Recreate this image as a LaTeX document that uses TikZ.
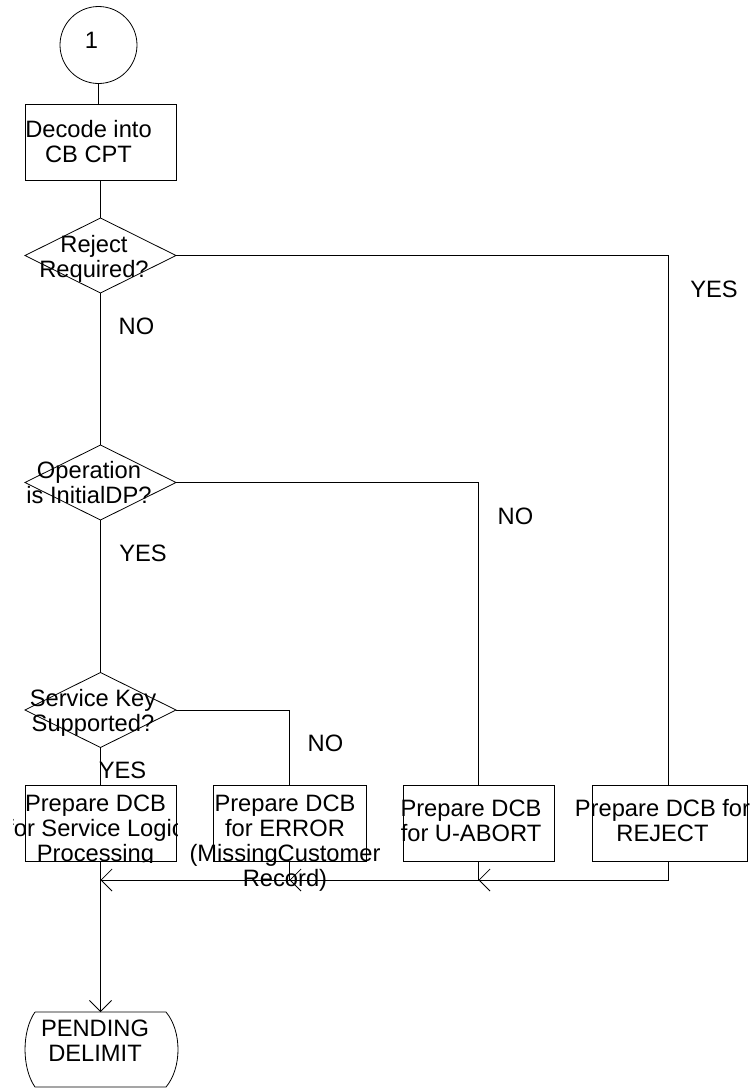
\documentclass[tikz,border=0pt]{standalone}
\usepackage{fontspec}
\setmainfont{Liberation Sans}
\usetikzlibrary{shapes.geometric,arrows.meta}
\begin{document}
\begin{tikzpicture}[x=1pt,y=-1pt,
  every node/.style={inner sep=0pt,outer sep=0pt},
  ln/.style={line width=0.8pt,draw=black},
  box/.style={ln,rectangle,minimum height=76pt},
  dia/.style={ln,diamond,minimum width=151pt,minimum height=75pt},
  txt/.style={font=\fontsize{23.7}{25}\selectfont,align=center},
  lab/.style={font=\fontsize{23.7}{25}\selectfont,anchor=base},
  arr/.style={ln,-{Straight Barb[length=11pt,width=22pt]}}]
\useasboundingbox (0,0) rectangle (753,1088);

% start connector
\node[ln,circle,minimum size=77pt] (c1) at (98.5,45) {};
\node[lab] (t1) at (91.5,48) {1};

% decode box
\node[box,minimum width=151pt] (dec) at (100.5,142) {};
\node[txt] (tdec) at (88.5,141.5) {Decode into\\CB CPT};

% decisions
\node[dia] (rej) at (100.5,255.5) {};
\node[txt] (trej) at (94,258.4) {Reject\\Required?};
\node[dia] (op) at (100.5,482.5) {};
\node[txt] (top) at (89,483) {Operation\\is InitialDP?};
\node[dia] (sk) at (100.5,710) {};
\node[txt] (tsk) at (93,712.4) {Service Key\\Supported?};

% bottom boxes
\node[box,minimum width=151pt] (slp) at (100.5,823) {};
\begin{scope}
\clip (13,780) rectangle (177,862);
\node[txt] (tslp) at (95.5,830.9) {Prepare DCB\\for Service Logic\\Processing};
\end{scope}
\node[box,minimum width=153pt] (err) at (289.5,823) {};
\node[txt] (terr) at (285,843.4) {Prepare DCB\\for ERROR\\(MissingCustomer\\Record)};
\node[box,minimum width=151pt] (uab) at (478.5,823) {};
\node[txt] (tuab) at (471,820.9) {Prepare DCB\\for U-ABORT};
\node[box,minimum width=155pt] (rjb) at (669.5,823) {};
\node[txt] (trjb) at (662.5,820.9) {Prepare DCB for\\REJECT};

% terminal
\node[minimum width=131pt,minimum height=75pt] (term) at (100.5,1049.5) {};
\draw[ln] (35,1012) -- (166,1012) .. controls (182,1031) and (182,1068) .. (166,1087)
  -- (35,1087) .. controls (21.7,1068) and (21.7,1031) .. (35,1012);
\node[txt] (tterm) at (95,1041.1) {PENDING\\DELIMIT};

% labels
\node[lab] (no1) at (136.5,334) {NO};
\node[lab] (yes1) at (714,297) {YES};
\node[lab] (no2) at (515.5,524) {NO};
\node[lab] (yes2) at (143,561) {YES};
\node[lab] (no3) at (325.5,751) {NO};
\node[lab] (yes3) at (122.5,778) {YES};

% connectors
\draw[ln] (c1.south) -- (c1.south |- dec.north);
\draw[ln] (dec.south) -- (rej.north);
\draw[ln] (rej.south) -- (op.north);
\draw[ln] (op.south) -- (sk.north);
\draw[ln] (sk.south) -- (slp.north);
\draw[ln] (rej.east) -| ([xshift=-1.5pt]rjb.north);
\draw[ln] (op.east) -| (uab.north);
\draw[ln] (sk.east) -| (err.north);

\coordinate (jU) at (478.5,880);
\coordinate (jE) at (289.5,880);
\coordinate (jS) at (100.5,880);
\draw[arr] ([xshift=-1.5pt]rjb.south) |- (jU);
\draw[arr] (uab.south) -- (jU) -- (jE);
\draw[arr] (err.south) -- (jE) -- (jS);
\draw[arr] (slp.south) -- (term.north);
\end{tikzpicture}
\end{document}
